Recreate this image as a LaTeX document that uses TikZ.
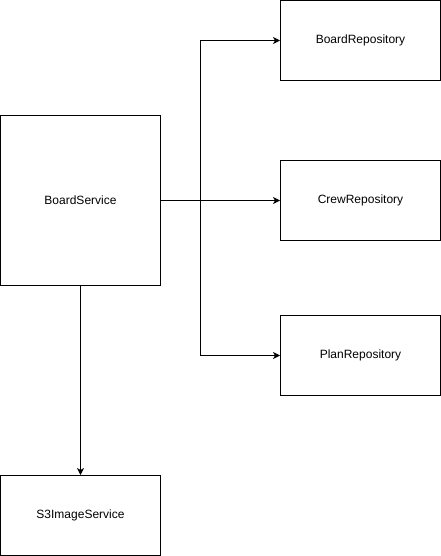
\documentclass[tikz,border=0pt]{standalone}
\usepackage{fontspec}
\setmainfont{Liberation Sans}
\usetikzlibrary{arrows.meta}
\begin{document}
\begin{tikzpicture}[x=1pt,y=-1pt,
  box/.style={draw=black,line width=1pt,fill=white,minimum width=160pt,minimum height=80pt,inner sep=0pt,font=\fontsize{12}{14}\selectfont},
  arr/.style={draw=black,line width=1pt,-{Stealth[length=7pt,width=7pt,inset=2pt]}}]
\useasboundingbox (-0.5,-0.5) rectangle (440.5,555.5);
\node[box] (brepo) at (360,40) {BoardRepository};
\node[box] (crepo) at (360,200) {CrewRepository};
\node[box] (prepo) at (360,355) {PlanRepository};
\node[box,minimum height=170pt] (bsvc) at (80,200) {BoardService};
\node[box] (s3) at (80,515) {S3ImageService};
\coordinate (j) at (200,200);
\draw[arr] (bsvc.east) -- (crepo.west);
\draw[arr] (bsvc.east) -- (j) |- (brepo.west);
\draw[arr] (bsvc.east) -- (j) |- (prepo.west);
\draw[arr] (bsvc.south) -- (s3.north);
\end{tikzpicture}
\end{document}
